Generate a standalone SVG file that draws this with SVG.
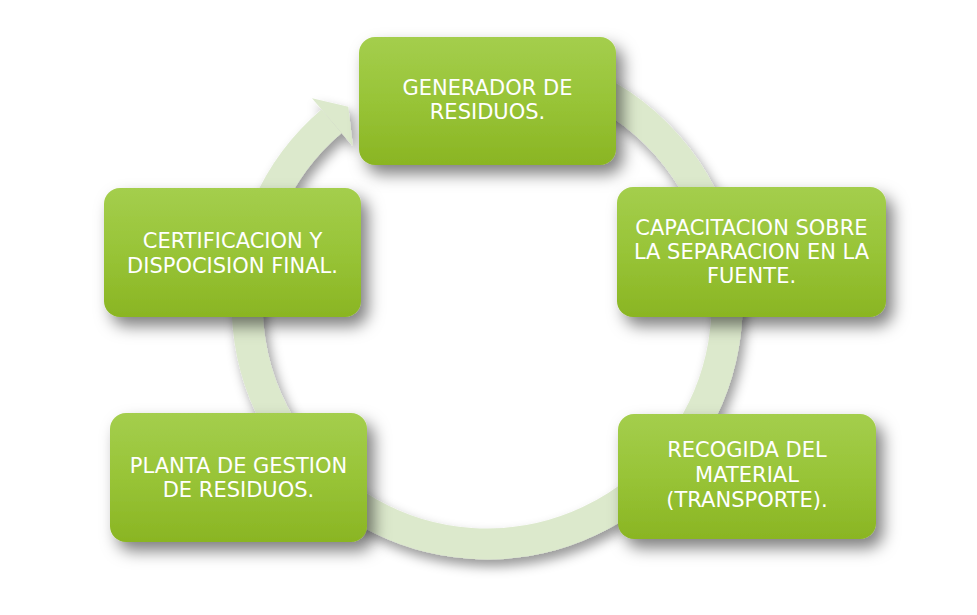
<svg xmlns="http://www.w3.org/2000/svg" width="977" height="615" viewBox="0 0 977 615">
  <defs>
    <linearGradient id="boxGrad" x1="0" y1="0" x2="0" y2="1">
      <stop offset="0" stop-color="#a4ce4d"/>
      <stop offset="0.5" stop-color="#98c437"/>
      <stop offset="1" stop-color="#8ab523"/>
    </linearGradient>
    <filter id="shadow" x="-20%" y="-20%" width="150%" height="160%">
      <feDropShadow dx="7" dy="9" stdDeviation="8" flood-color="#000" flood-opacity="0.5"/>
    </filter>
    <filter id="ringShadow" x="-10%" y="-10%" width="125%" height="125%">
      <feDropShadow dx="4" dy="7" stdDeviation="6" flood-color="#000" flood-opacity="0.4"/>
    </filter>
  </defs>
  <style>
    .box { fill: url(#boxGrad); filter: url(#shadow); }
    .label { font-family: "DejaVu Sans", "Verdana", sans-serif; font-size: 21px; fill: #ffffff; text-anchor: middle; }
    .ring { fill: none; stroke: #dce9cc; stroke-width: 31; }
    .head { fill: #dce9cc; }
  </style>
  <rect width="977" height="615" fill="#ffffff"/>

  <g id="connectors" filter="url(#ringShadow)">
    <path class="ring" d="M 445.3 67.6 A 240 240 0 1 1 331.5 121.2"/>
    <polygon class="head" points="312,98.3 348.3,106.8 352.9,146.3"/>
  </g>

  <g id="node-generador">
    <rect class="box" x="359" y="37" width="257" height="128" rx="16" ry="16"/>
    <text class="label" x="487.5" y="95">GENERADOR DE</text>
    <text class="label" x="487.5" y="119">RESIDUOS.</text>
  </g>

  <g id="node-capacitacion">
    <rect class="box" x="617" y="187" width="269" height="130" rx="16" ry="16"/>
    <text class="label" x="751.5" y="235">CAPACITACION SOBRE</text>
    <text class="label" x="751.5" y="259">LA SEPARACION EN LA</text>
    <text class="label" x="751.5" y="283">FUENTE.</text>
  </g>

  <g id="node-recogida">
    <rect class="box" x="618" y="414" width="258" height="125" rx="16" ry="16"/>
    <text class="label" x="747" y="457">RECOGIDA DEL</text>
    <text class="label" x="747" y="482">MATERIAL</text>
    <text class="label" x="747" y="507">(TRANSPORTE).</text>
  </g>

  <g id="node-planta">
    <rect class="box" x="110" y="413" width="257" height="129" rx="16" ry="16"/>
    <text class="label" x="238.5" y="473">PLANTA DE GESTION</text>
    <text class="label" x="238.5" y="497">DE RESIDUOS.</text>
  </g>

  <g id="node-certificacion">
    <rect class="box" x="104" y="188" width="257" height="129" rx="16" ry="16"/>
    <text class="label" x="232.5" y="248">CERTIFICACION Y</text>
    <text class="label" x="232.5" y="273">DISPOCISION FINAL.</text>
  </g>
</svg>
